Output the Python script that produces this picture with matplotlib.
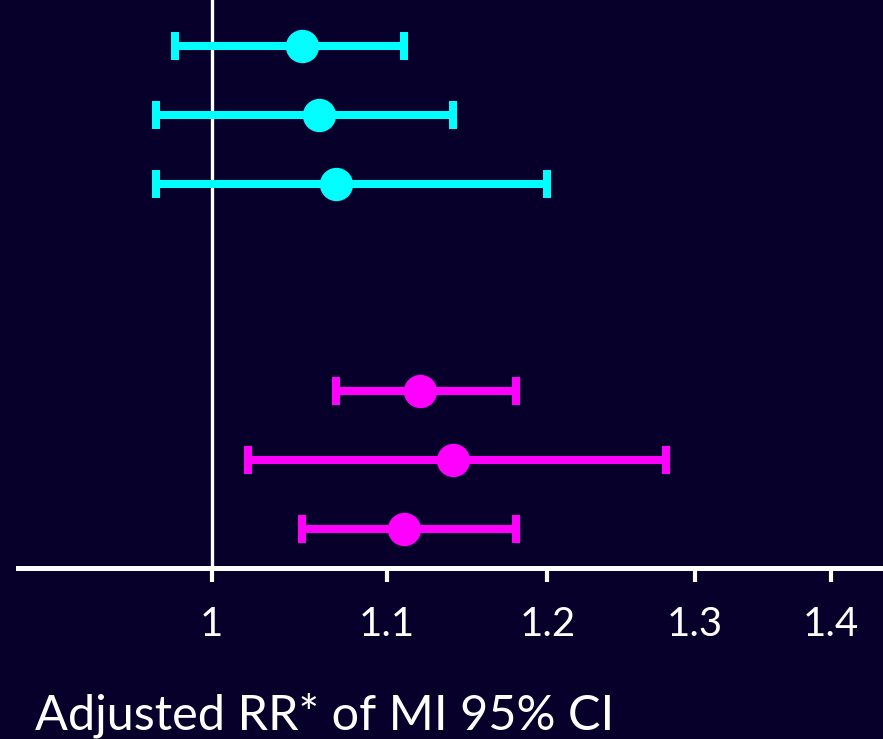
import matplotlib

matplotlib.use("Agg")
import matplotlib.pyplot as plt
import numpy as np

# adjusted RR of MI with 95% CI, top to bottom
rows = [0, 1, 2, 5, 6, 7]
rr = [1.05, 1.06, 1.07, 1.12, 1.14, 1.11]
ci_low = [0.98, 0.97, 0.97, 1.07, 1.02, 1.05]
ci_high = [1.11, 1.14, 1.20, 1.18, 1.28, 1.18]
colors = ["#00FFFF", "#00FFFF", "#00FFFF", "#FF00FF", "#FF00FF", "#FF00FF"]

tick_values = [1, 1.1, 1.2, 1.3, 1.4]
tick_labels = ["1", "1.1", "1.2", "1.3", "1.4"]
xlabel = "Adjusted RR* of MI 95% CI"

BG = "#06002A"
W, H = 883, 739

plt.rcParams["font.family"] = ["Lato", "DejaVu Sans"]

fig = plt.figure(figsize=(W / 100, H / 100), dpi=100, facecolor=BG)
ax = fig.add_axes([18 / W, (H - 568) / H, 1 - 18 / W, 568 / H])
ax.set_facecolor(BG)

for y, m, lo, hi, c in zip(rows, rr, ci_low, ci_high, colors):
    ax.errorbar(
        [m], [y], xerr=[[m - lo], [hi - m]],
        fmt="o", color=c, ecolor=c, markersize=23,
        elinewidth=5.8, capsize=10, capthick=5.8,
        solid_capstyle="butt",
    )

ax.axvline(1, color="white", linewidth=2.4, zorder=0)

ax.set_xscale("log")
ax.set_xlim(0.9, np.exp((883 - 212) / 1840))
ax.set_ylim(7.565, -0.667)

ax.set_xticks(tick_values)
ax.set_xticklabels(tick_labels, fontsize=29, color="white")
ax.xaxis.set_minor_locator(matplotlib.ticker.NullLocator())
ax.tick_params(axis="x", direction="out", length=10, width=3, color="white", pad=17)
ax.set_yticks([])

for side in ("top", "right", "left"):
    ax.spines[side].set_visible(False)
ax.spines["bottom"].set_color("white")
ax.spines["bottom"].set_linewidth(3.6)

fig.text(35 / W, (H - 730) / H, xlabel, fontsize=35, color="white",
         ha="left", va="baseline")

fig.savefig("out.png", dpi=100, facecolor=BG)
